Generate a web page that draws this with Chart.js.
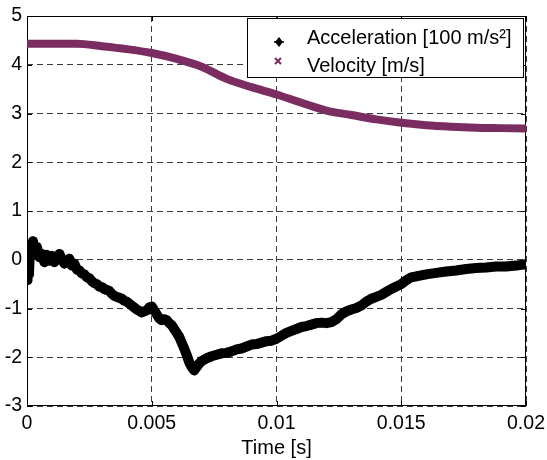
<!DOCTYPE html>
<html>
<head>
<meta charset="utf-8">
<script src="https://cdn.jsdelivr.net/npm/chart.js@4"></script>
<style>
    html, body { margin: 0; padding: 0; background: #fff; }
    #wrap { width: 547px; height: 460px; }
</style>
</head>
<body>
<div id="wrap"><canvas id="chart-canvas" width="547" height="460"></canvas></div>
<script>
// Datos
const timeAcc = [
    0.00000, 0.00002, 0.00005, 0.00008, 0.00012, 0.00018, 0.00024, 0.00030, 0.00040, 0.00050,
    0.00060, 0.00070, 0.00080, 0.00090, 0.00100, 0.00110, 0.00120, 0.00130, 0.00140, 0.00150,
    0.00160, 0.00170, 0.00180, 0.00190, 0.00200, 0.00210, 0.00220, 0.00230, 0.00240, 0.00250,
    0.00260, 0.00270, 0.00280, 0.00290, 0.00300, 0.00310, 0.00320, 0.00330, 0.00340, 0.00350,
    0.00360, 0.00370, 0.00380, 0.00390, 0.00400, 0.00410, 0.00420, 0.00430, 0.00440, 0.00450,
    0.00460, 0.00470, 0.00480, 0.00490, 0.00500, 0.00510, 0.00520, 0.00530, 0.00540, 0.00550,
    0.00560, 0.00570, 0.00580, 0.00590, 0.00600, 0.00610, 0.00620, 0.00630, 0.00640, 0.00650,
    0.00660, 0.00670, 0.00680, 0.00690, 0.00700, 0.00720, 0.00740, 0.00760, 0.00780, 0.00800,
    0.00820, 0.00840, 0.00860, 0.00880, 0.00900, 0.00920, 0.00940, 0.00960, 0.00980, 0.01000,
    0.01020, 0.01040, 0.01060, 0.01080, 0.01100, 0.01120, 0.01140, 0.01160, 0.01180, 0.01200,
    0.01220, 0.01240, 0.01260, 0.01280, 0.01300, 0.01320, 0.01340, 0.01360, 0.01380, 0.01400,
    0.01420, 0.01440, 0.01460, 0.01480, 0.01500, 0.01520, 0.01540, 0.01560, 0.01580, 0.01600,
    0.01640, 0.01680, 0.01720, 0.01760, 0.01800, 0.01840, 0.01880, 0.01920, 0.01960, 0.02000
];
const accel = [
    -0.10, -0.42, 0.22, -0.30, 0.28, 0.08, 0.38, 0.18, 0.26, 0.05,
    0.12, -0.05, 0.10, -0.02, 0.08, -0.05, 0.06, 0.12, 0.00, -0.08,
    -0.02, 0.02, -0.12, -0.08, -0.20, -0.22, -0.28, -0.30, -0.36, -0.38,
    -0.44, -0.48, -0.50, -0.55, -0.56, -0.60, -0.62, -0.64, -0.70, -0.74,
    -0.76, -0.78, -0.80, -0.84, -0.86, -0.90, -0.94, -0.98, -1.02, -1.05,
    -1.08, -1.06, -1.04, -0.98, -0.96, -1.04, -1.12, -1.20, -1.24, -1.22,
    -1.24, -1.30, -1.34, -1.42, -1.50, -1.58, -1.70, -1.82, -1.95, -2.10,
    -2.20, -2.27, -2.20, -2.13, -2.08, -2.02, -1.98, -1.95, -1.92, -1.91,
    -1.88, -1.84, -1.82, -1.78, -1.74, -1.73, -1.70, -1.67, -1.66, -1.62,
    -1.56, -1.50, -1.46, -1.42, -1.38, -1.36, -1.33, -1.30, -1.29, -1.30,
    -1.28, -1.22, -1.12, -1.06, -1.02, -0.99, -0.94, -0.86, -0.80, -0.76,
    -0.72, -0.66, -0.60, -0.55, -0.50, -0.42, -0.36, -0.34, -0.32, -0.30,
    -0.27, -0.24, -0.22, -0.19, -0.17, -0.16, -0.14, -0.14, -0.12, -0.09
];
const timeVel = [
    0.000, 0.001, 0.002, 0.003, 0.004, 0.005, 0.006, 0.007, 0.008, 0.009, 0.010,
    0.011, 0.012, 0.013, 0.014, 0.015, 0.016, 0.017, 0.018, 0.019, 0.020
];
const velocity = [
    4.43, 4.43, 4.43, 4.38, 4.32, 4.24, 4.12, 3.96, 3.71, 3.54, 3.39,
    3.22, 3.06, 2.97, 2.88, 2.81, 2.76, 2.73, 2.71, 2.70, 2.69
];
const seriesLabels = ["Acceleration [100 m/s²]", "Velocity [m/s]"];
const xTickStep = 0.005;
const yTickStep = 1;

// Paleta
const colors = {
    acc: '#000000',
    vel: '#7b2d61',
    grid: '#3a3a3a'
};
const FONT = '"Liberation Sans", Arial, sans-serif';

const canvas = document.getElementById("chart-canvas");

const toPoints = (xs, ys) => xs.map((x, i) => ({ x: x, y: ys[i] }));

// Marcadores de la leyenda
const drawAccMarker = (ctx, x, y) => {
    ctx.save();
    ctx.fillStyle = colors.acc;
    ctx.strokeStyle = colors.acc;
    ctx.beginPath();
    ctx.moveTo(x, y - 5); ctx.lineTo(x + 4, y); ctx.lineTo(x, y + 5); ctx.lineTo(x - 4, y);
    ctx.closePath();
    ctx.fill();
    ctx.lineWidth = 1.5;
    ctx.beginPath();
    ctx.moveTo(x - 5, y); ctx.lineTo(x + 5, y);
    ctx.stroke();
    ctx.restore();
};
const drawVelMarker = (ctx, x, y) => {
    ctx.save();
    ctx.strokeStyle = colors.vel;
    ctx.lineWidth = 2;
    ctx.beginPath();
    ctx.moveTo(x - 3, y - 3); ctx.lineTo(x + 3, y + 3);
    ctx.moveTo(x + 3, y - 3); ctx.lineTo(x - 3, y + 3);
    ctx.stroke();
    ctx.restore();
};

// Caja del grafico y marcas internas (estilo MATLAB)
const boxPlugin = {
    id: 'box',
    beforeDatasetsDraw(chart) {
        const { ctx, chartArea: a, scales } = chart;
        ctx.save();
        ctx.strokeStyle = '#000';
        ctx.lineWidth = 1;
        ctx.strokeRect(a.left + 0.5, a.top + 0.5, a.right - a.left - 1, a.bottom - a.top - 1);
        ctx.beginPath();
        scales.x.ticks.forEach(t => {
            const px = Math.round(scales.x.getPixelForValue(t.value)) + 0.5;
            ctx.moveTo(px, a.bottom); ctx.lineTo(px, a.bottom - 5);
            ctx.moveTo(px, a.top); ctx.lineTo(px, a.top + 5);
        });
        scales.y.ticks.forEach(t => {
            const py = Math.round(scales.y.getPixelForValue(t.value)) + 0.5;
            ctx.moveTo(a.left, py); ctx.lineTo(a.left + 5, py);
            ctx.moveTo(a.right, py); ctx.lineTo(a.right - 5, py);
        });
        ctx.stroke();
        ctx.restore();
    }
};

// Leyenda con recuadro dentro del area
const legendPlugin = {
    id: 'boxLegend',
    afterDatasetsDraw(chart) {
        const { ctx } = chart;
        const bx = 247.5, by = 18.5, bw = 276, bh = 59;
        ctx.save();
        ctx.fillStyle = '#fff';
        ctx.fillRect(bx, by, bw, bh);
        ctx.strokeStyle = '#000';
        ctx.lineWidth = 1;
        ctx.strokeRect(bx, by, bw, bh);
        ctx.fillStyle = '#000';
        ctx.font = '20px ' + FONT;
        ctx.textBaseline = 'alphabetic';
        ctx.fillText(chart.data.datasets[0].label, 307, 44);
        ctx.fillText(chart.data.datasets[1].label, 307, 72);
        drawAccMarker(ctx, 279, 42);
        drawVelMarker(ctx, 278, 61);
        ctx.restore();
    }
};

const config = {
    type: 'line',
    data: {
        datasets: [
            {
                label: seriesLabels[0],
                data: toPoints(timeAcc, accel),
                borderColor: colors.acc,
                backgroundColor: colors.acc,
                borderWidth: 10,
                pointStyle: 'rectRot',
                pointRadius: 5,
                pointBorderWidth: 0,
                tension: 0,
                borderJoinStyle: 'round'
            },
            {
                label: seriesLabels[1],
                data: toPoints(timeVel, velocity),
                borderColor: colors.vel,
                backgroundColor: colors.vel,
                borderWidth: 8,
                pointRadius: 0,
                cubicInterpolationMode: 'monotone'
            }
        ]
    },
    options: {
        responsive: false,
        animation: false,
        layout: { padding: { top: 16, right: 21, left: 0, bottom: 0 } },
        plugins: {
            legend: { display: false },
            tooltip: { enabled: false }
        },
        scales: {
            x: {
                type: 'linear',
                min: 0,
                max: 0.02,
                afterFit: (s) => {
                    s.height = 54;
                    s.paddingLeft = 0;
                    s.paddingRight = 0;
                },
                ticks: {
                    stepSize: xTickStep,
                    color: '#000',
                    font: { family: FONT, size: 19.5 },
                    padding: 6,
                    maxRotation: 0,
                    callback: (v) => String(+v.toFixed(3))
                },
                grid: {
                    color: colors.grid,
                    lineWidth: 1,
                    drawTicks: false
                },
                border: { display: false, dash: [6, 4] },
                title: {
                    display: true,
                    text: 'Time [s]',
                    color: '#000',
                    font: { family: FONT, size: 20 },
                    padding: { top: 2, bottom: 0 }
                }
            },
            y: {
                min: -3,
                max: 5,
                afterFit: (s) => {
                    s.width = 27;
                    s.paddingTop = 0;
                    s.paddingBottom = 0;
                },
                ticks: {
                    stepSize: yTickStep,
                    color: '#000',
                    font: { family: FONT, size: 19.5 },
                    padding: 5
                },
                grid: {
                    color: colors.grid,
                    lineWidth: 1,
                    drawTicks: false
                },
                border: { display: false, dash: [6, 4] }
            }
        }
    },
    plugins: [boxPlugin, legendPlugin]
};

new Chart(canvas.getContext('2d'), config);
</script>
</body>
</html>
